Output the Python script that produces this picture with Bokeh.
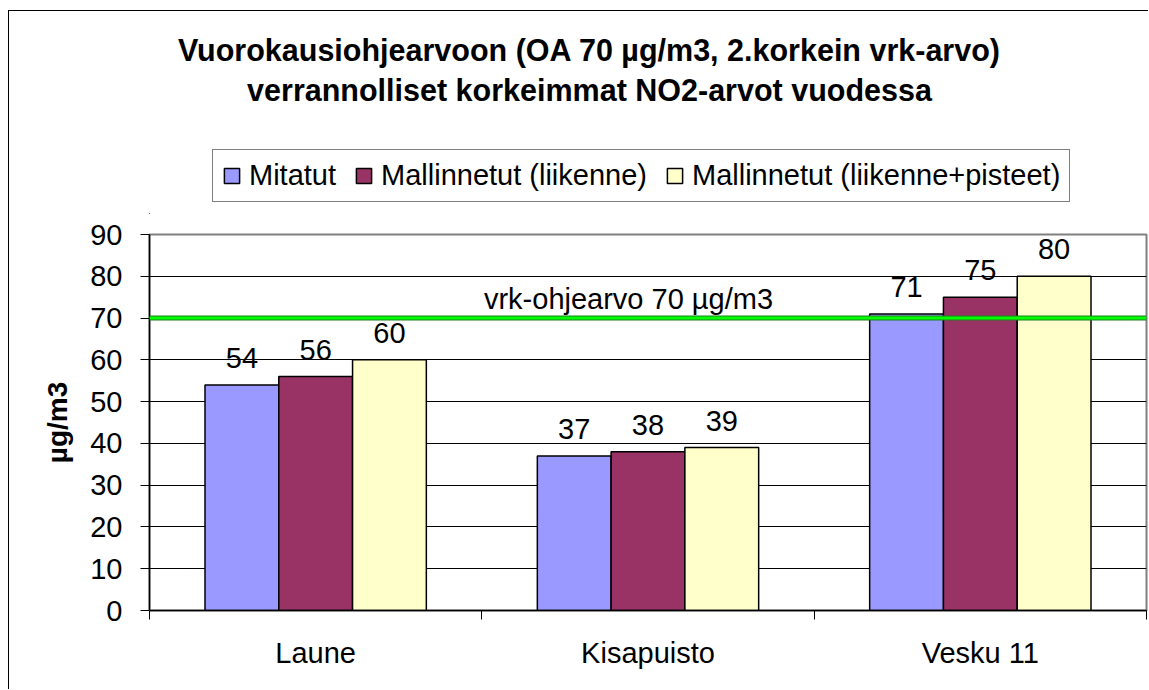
from bokeh.plotting import figure
from bokeh.layouts import column
from bokeh.models import (ColumnDataSource, Range1d, FixedTicker, Span, Label,
                          LabelSet, Legend, LegendItem)
from bokeh.core.properties import value
from bokeh.embed import file_html
from bokeh.resources import INLINE

categories = ["Laune", "Kisapuisto", "Vesku 11"]
series_names = ["Mitatut", "Mallinnetut (liikenne)", "Mallinnetut (liikenne+pisteet)"]
mitatut = [54, 37, 71]
liikenne = [56, 38, 75]
pisteet = [60, 39, 80]
series_values = [mitatut, liikenne, pisteet]
series_colors = ["#9999FF", "#993366", "#FFFFCC"]
y_ticks = [0, 10, 20, 30, 40, 50, 60, 70, 80, 90]
guide_value = 70
guide_label = "vrk-ohjearvo 70 µg/m3"
title_lines = ["Vuorokausiohjearvoon (OA 70 µg/m3, 2.korkein vrk-arvo)",
               "verrannolliset korkeimmat NO2-arvot vuodessa"]
y_label = "µg/m3"

FONT = "Liberation Sans"
FS = "29px"
W = 1139
TOP_H = 203
MAIN_H = 475

bar_w = 0.222
offsets = [-bar_w, 0.0, bar_w]
centers = [i + 0.5 for i in range(len(categories))]

# ---------- header figure: title + legend ----------
# (its ranges lie far away from the data, so the legend proxies are never seen)
top = figure(width=W, height=TOP_H, output_backend="svg", toolbar_location=None, tools="",
             x_range=Range1d(100, 103), y_range=Range1d(1000, 1000 + TOP_H),
             x_axis_type=None, y_axis_type=None,
             min_border_left=0, min_border_right=0, min_border_top=0, min_border_bottom=0)
top.outline_line_color = None
top.background_fill_color = "white"
top.border_fill_color = "white"
top.xgrid.grid_line_color = None
top.ygrid.grid_line_color = None

for i, t in enumerate(title_lines):
    top.add_layout(Label(x=440, y=165 - 40 * i, x_units="screen", y_units="screen", text=t,
                         text_align="center", text_baseline="alphabetic", text_font=FONT,
                         text_font_style="bold", text_font_size="30.5px", text_color="black"))

legend_renderers = []
for name, vals, col, off in zip(series_names, series_values, series_colors, offsets):
    r = top.vbar(x=[c + off for c in centers], top=vals, width=bar_w, fill_color=col,
                 line_color="black", line_width=1.5)
    legend_renderers.append(r)

legend = Legend(items=[LegendItem(label=n, renderers=[r]) for n, r in zip(series_names, legend_renderers)],
                orientation="horizontal", location=(63, 12),
                label_text_font=FONT, label_text_font_size=FS, label_text_color="black",
                glyph_width=19, glyph_height=19, label_standoff=8, spacing=18,
                padding=9, margin=0, border_line_color="black", border_line_width=1,
                background_fill_color="white", background_fill_alpha=1.0)
top.add_layout(legend, "center")

# ---------- main chart ----------
p = figure(width=W, height=MAIN_H, output_backend="svg", toolbar_location=None, tools="",
           x_range=Range1d(0, len(categories)), y_range=Range1d(0, 90),
           min_border_left=140, min_border_right=2, min_border_top=20,
           min_border_bottom=79)
p.background_fill_color = "white"
p.border_fill_color = "white"
p.outline_line_color = "#808080"
p.outline_line_width = 2

for name, vals, col, off in zip(series_names, series_values, series_colors, offsets):
    src = ColumnDataSource(dict(x=[c + off for c in centers], top=vals,
                                lbl=[str(v) for v in vals]))
    p.vbar(x="x", top="top", width=bar_w, source=src, fill_color=col,
           line_color="black", line_width=1.5)
    p.add_layout(LabelSet(x="x", y="top", text="lbl", source=src, y_offset=17,
                          text_align="center", text_baseline="alphabetic",
                          text_font=value(FONT), text_font_size=value(FS),
                          text_color="black"))

# guide line
p.add_layout(Span(location=guide_value, dimension="width", line_color="#1f7f1f", line_width=5))
p.add_layout(Span(location=guide_value, dimension="width", line_color="#00FF00", line_width=3))
p.add_layout(Label(x=479, x_units="screen", y=guide_value, y_offset=19, text=guide_label,
                   text_align="center", text_baseline="alphabetic", text_font=FONT,
                   text_font_size=FS, text_color="black"))

# axes
p.yaxis.ticker = FixedTicker(ticks=y_ticks)
p.yaxis.major_label_text_font = FONT
p.yaxis.major_label_text_font_size = FS
p.yaxis.major_label_text_color = "black"
p.yaxis.major_tick_out = 9
p.yaxis.major_tick_in = 0
p.yaxis.minor_tick_line_color = None
p.yaxis.major_label_standoff = 18
p.yaxis.axis_line_color = "black"
p.yaxis.axis_line_width = 1.5
p.yaxis.major_tick_line_color = "black"
p.yaxis.axis_label = y_label
p.yaxis.axis_label_text_font = FONT
p.yaxis.axis_label_text_font_style = "bold"
p.yaxis.axis_label_text_font_size = "28px"
p.yaxis.axis_label_text_color = "black"
p.yaxis.axis_label_standoff = 14

p.xaxis.ticker = FixedTicker(ticks=centers, minor_ticks=list(range(len(categories) + 1)))
p.xaxis.major_label_overrides = {c: n for c, n in zip(centers, categories)}
p.xaxis.major_label_text_font = FONT
p.xaxis.major_label_text_font_size = FS
p.xaxis.major_label_text_color = "black"
p.xaxis.major_tick_line_color = None
p.xaxis.major_tick_out = 0
p.xaxis.major_tick_in = 0
p.xaxis.minor_tick_line_color = "black"
p.xaxis.minor_tick_out = 9
p.xaxis.minor_tick_in = 0
p.xaxis.major_label_standoff = 17
p.xaxis.axis_line_color = "black"
p.xaxis.axis_line_width = 1.5

p.xgrid.grid_line_color = None
p.ygrid.ticker = FixedTicker(ticks=y_ticks[1:-1])
p.ygrid.grid_line_color = "black"
p.ygrid.grid_line_width = 1

layout = column(top, p, spacing=0)
layout.styles = {"margin-left": "8px", "margin-top": "10px",
                 "border-left": "1px solid #000000", "border-top": "1px solid #000000"}

open("out.html", "w").write(file_html(layout, INLINE))
